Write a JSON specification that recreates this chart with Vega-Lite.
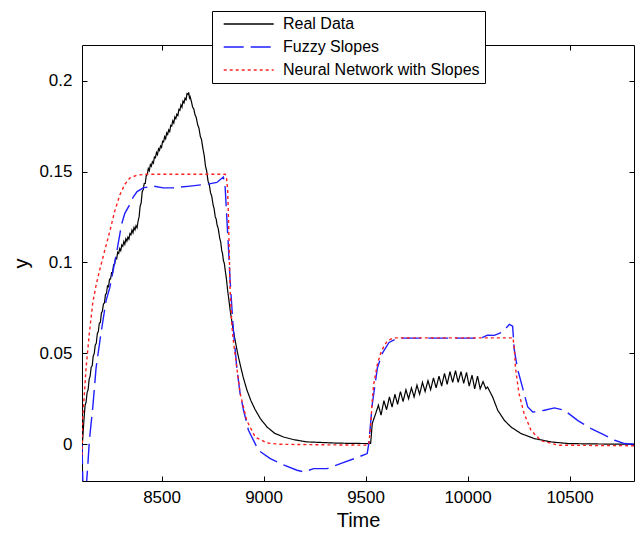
{
  "$schema": "https://vega.github.io/schema/vega-lite/v6.json",
  "width": 552,
  "height": 436,
  "autosize": {"type": "none"},
  "padding": {"left": 82, "top": 45, "right": 6, "bottom": 54},
  "background": "white",
  "config": {
    "view": {"stroke": "black", "strokeWidth": 1},
    "font": "Liberation Sans",
    "axis": {
      "grid": false, "domain": false, "tickColor": "black", "tickSize": -5, "tickWidth": 1,
      "labelColor": "black", "labelFontSize": 17, "labelFont": "Liberation Sans",
      "titleFont": "Liberation Sans", "titleFontSize": 20, "titleFontWeight": "normal", "titleColor": "black"
    }
  },
  "datasets": {
    "real": [
      {"t":8110,"v":0},{"t":8113,"v":0.002},{"t":8118,"v":0.011},{"t":8122,"v":0.017},
      {"t":8125,"v":0.0212},{"t":8130,"v":0.0232},{"t":8135,"v":0.0284},{"t":8140,"v":0.03},{"t":8145,"v":0.0357},{"t":8150,"v":0.0375},{"t":8155,"v":0.0424},{"t":8160,"v":0.0432},{"t":8165,"v":0.0485},{"t":8170,"v":0.0499},{"t":8175,"v":0.0546},{"t":8180,"v":0.0556},{"t":8185,"v":0.0608},{"t":8190,"v":0.0621},{"t":8195,"v":0.0666},{"t":8200,"v":0.067},{"t":8205,"v":0.0722},{"t":8210,"v":0.0732},{"t":8215,"v":0.0771},{"t":8220,"v":0.0777},{"t":8225,"v":0.0823},{"t":8230,"v":0.0831},{"t":8235,"v":0.0871},{"t":8240,"v":0.0867},{"t":8245,"v":0.0908},{"t":8250,"v":0.0909},{"t":8255,"v":0.0944},{"t":8260,"v":0.0945},{"t":8265,"v":0.0987},{"t":8270,"v":0.0991},{"t":8275,"v":0.1026},{"t":8280,"v":0.102},{"t":8285,"v":0.1057},{"t":8290,"v":0.105},{"t":8295,"v":0.1076},{"t":8300,"v":0.1065},{"t":8305,"v":0.1096},{"t":8310,"v":0.1089},{"t":8315,"v":0.1115},{"t":8320,"v":0.11},{"t":8325,"v":0.113},{"t":8330,"v":0.1117},{"t":8335,"v":0.1139},{"t":8340,"v":0.1128},{"t":8345,"v":0.1159},{"t":8350,"v":0.1152},{"t":8355,"v":0.1178},{"t":8360,"v":0.1163},{"t":8365,"v":0.1192},{"t":8370,"v":0.118},{"t":8375,"v":0.1202},{"t":8380,"v":0.1191},{"t":8385,"v":0.1228},{"t":8390,"v":0.1252},{"t":8395,"v":0.131},{"t":8400,"v":0.1327},{"t":8405,"v":0.1388},{"t":8410,"v":0.14},{"t":8415,"v":0.1434},{"t":8420,"v":0.1435},{"t":8425,"v":0.1478},{"t":8430,"v":0.1483},{"t":8435,"v":0.1517},{"t":8440,"v":0.1505},{"t":8445,"v":0.1538},{"t":8450,"v":0.1529},{"t":8455,"v":0.1554},{"t":8460,"v":0.1546},{"t":8465,"v":0.158},{"t":8470,"v":0.1576},{"t":8475,"v":0.1605},{"t":8480,"v":0.1593},{"t":8485,"v":0.1625},{"t":8490,"v":0.1616},{"t":8495,"v":0.1641},{"t":8500,"v":0.1633},{"t":8505,"v":0.1667},{"t":8510,"v":0.1663},{"t":8515,"v":0.1692},{"t":8520,"v":0.168},{"t":8525,"v":0.1713},{"t":8530,"v":0.1704},{"t":8535,"v":0.1729},{"t":8540,"v":0.172},{"t":8545,"v":0.1754},{"t":8550,"v":0.175},{"t":8555,"v":0.1779},{"t":8560,"v":0.1767},{"t":8565,"v":0.18},{"t":8570,"v":0.1791},{"t":8575,"v":0.1816},{"t":8580,"v":0.1808},{"t":8585,"v":0.1842},{"t":8590,"v":0.1837},{"t":8595,"v":0.1866},{"t":8600,"v":0.1854},{"t":8605,"v":0.1887},{"t":8610,"v":0.1878},{"t":8615,"v":0.1903},{"t":8620,"v":0.1895},{"t":8625,"v":0.1929},{"t":8630,"v":0.1925},{"t":8633,"v":0.1935},{"t":8637,"v":0.1905},{"t":8640,"v":0.1912},
      {"t":8646,"v":0.1887},{"t":8652,"v":0.1855},{"t":8658,"v":0.1844},{"t":8664,"v":0.1812},{"t":8670,"v":0.1798},{"t":8677,"v":0.1757},{"t":8683,"v":0.174},{"t":8690,"v":0.1694},{"t":8696,"v":0.1675},{"t":8703,"v":0.1625},{"t":8709,"v":0.1589},{"t":8715,"v":0.1532},{"t":8721,"v":0.1504},{"t":8728,"v":0.1447},{"t":8734,"v":0.1428},{"t":8740,"v":0.1384},{"t":8746,"v":0.1365},{"t":8753,"v":0.1315},{"t":8758,"v":0.1294},{"t":8763,"v":0.1252},{"t":8768,"v":0.1238},{"t":8772,"v":0.1207},{"t":8778,"v":0.1186},{"t":8785,"v":0.1134},{"t":8790,"v":0.1112},{"t":8795,"v":0.1065},{"t":8799,"v":0.1049},{"t":8803,"v":0.1012},{"t":8808,"v":0.0993},{"t":8812,"v":0.0957},{"t":8818,"v":0.091},{"t":8824,"v":0.0846},{"t":8830,"v":0.0795},{"t":8836,"v":0.074},
      {"t":8848,"v":0.065},{"t":8861,"v":0.057},{"t":8873,"v":0.05},{"t":8885,"v":0.044},{"t":8900,"v":0.037},{"t":8918,"v":0.03},{"t":8938,"v":0.024},{"t":8959,"v":0.019},{"t":8985,"v":0.014},{"t":9017,"v":0.0095},{"t":9055,"v":0.006},{"t":9098,"v":0.004},{"t":9150,"v":0.0025},{"t":9213,"v":0.0013},{"t":9280,"v":0.001},{"t":9344,"v":0.0007},{"t":9420,"v":0.0005},{"t":9508,"v":0.0004},{"t":9525,"v":0.0005},{"t":9533,"v":0.0115},{"t":9550,"v":0.017},
      {"t":9563,"v":0.0215},{"t":9576,"v":0.016},{"t":9590,"v":0.024},{"t":9603,"v":0.019},{"t":9617,"v":0.026},{"t":9630,"v":0.0205},{"t":9644,"v":0.0275},{"t":9657,"v":0.022},{"t":9671,"v":0.029},{"t":9684,"v":0.0235},{"t":9698,"v":0.03},{"t":9711,"v":0.025},{"t":9725,"v":0.031},{"t":9738,"v":0.026},{"t":9752,"v":0.0325},{"t":9765,"v":0.0275},{"t":9779,"v":0.034},{"t":9792,"v":0.029},{"t":9806,"v":0.035},{"t":9819,"v":0.03},{"t":9833,"v":0.0365},{"t":9846,"v":0.031},{"t":9860,"v":0.0375},{"t":9873,"v":0.032},{"t":9887,"v":0.039},{"t":9900,"v":0.033},{"t":9914,"v":0.04},{"t":9927,"v":0.034},{"t":9941,"v":0.0405},{"t":9954,"v":0.034},{"t":9968,"v":0.04},{"t":9981,"v":0.0335},{"t":9995,"v":0.0395},{"t":10008,"v":0.032},{"t":10022,"v":0.038},{"t":10035,"v":0.0305},{"t":10049,"v":0.0375},{"t":10062,"v":0.0305},{"t":10076,"v":0.0345},{"t":10090,"v":0.0305},{"t":10098,"v":0.0315},{"t":10123,"v":0.026},{"t":10148,"v":0.0187},{"t":10180,"v":0.0132},{"t":10213,"v":0.0095},{"t":10262,"v":0.0059},{"t":10328,"v":0.0031},{"t":10410,"v":0.0013},{"t":10492,"v":0.0004},{"t":10600,"v":0.0002},{"t":10700,"v":0.0001},{"t":10816,"v":0.0001}
    ],
    "fuzzy": [
      {"t":8110,"v":0},{"t":8115,"v":-0.025},{"t":8125,"v":-0.035},{"t":8133,"v":-0.02},{"t":8138,"v":-0.0125},{"t":8146,"v":0.002},{"t":8163,"v":0.0205},{"t":8179,"v":0.042},{"t":8203,"v":0.061},{"t":8228,"v":0.079},{"t":8246,"v":0.086},{"t":8279,"v":0.105},{"t":8304,"v":0.121},{"t":8320,"v":0.127},{"t":8345,"v":0.132},{"t":8361,"v":0.136},{"t":8380,"v":0.139},{"t":8410,"v":0.141},{"t":8459,"v":0.142},{"t":8508,"v":0.141},{"t":8557,"v":0.141},{"t":8640,"v":0.142},{"t":8722,"v":0.143},{"t":8771,"v":0.144},{"t":8803,"v":0.147},{"t":8812,"v":0.141},{"t":8828,"v":0.108},{"t":8836,"v":0.09},{"t":8852,"v":0.063},{"t":8869,"v":0.042},{"t":8885,"v":0.028},{"t":8902,"v":0.0187},{"t":8926,"v":0.0077},{"t":8975,"v":-0.0033},{"t":9033,"v":-0.0079},{"t":9082,"v":-0.0106},{"t":9164,"v":-0.0143},{"t":9197,"v":-0.0152},{"t":9246,"v":-0.0134},{"t":9312,"v":-0.0134},{"t":9377,"v":-0.0106},{"t":9459,"v":-0.0073},{"t":9508,"v":-0.0051},{"t":9516,"v":0.0004},{"t":9533,"v":0.022},{"t":9558,"v":0.042},{"t":9582,"v":0.05},{"t":9615,"v":0.056},{"t":9656,"v":0.0584},{"t":10065,"v":0.0584},{"t":10098,"v":0.06},{"t":10131,"v":0.0599},{"t":10172,"v":0.0617},{"t":10205,"v":0.066},{"t":10221,"v":0.065},{"t":10229,"v":0.052},{"t":10246,"v":0.041},{"t":10270,"v":0.031},{"t":10295,"v":0.0205},{"t":10320,"v":0.0177},{"t":10377,"v":0.0187},{"t":10426,"v":0.02},{"t":10475,"v":0.0187},{"t":10541,"v":0.013},{"t":10606,"v":0.0086},{"t":10672,"v":0.005},{"t":10721,"v":0.0022},{"t":10770,"v":0.0004},{"t":10816,"v":0}
    ],
    "nn": [
      {"t":8110,"v":-0.006},{"t":8113,"v":0.013},{"t":8130,"v":0.042},{"t":8146,"v":0.061},{"t":8163,"v":0.078},{"t":8180,"v":0.088},{"t":8197,"v":0.096},{"t":8220,"v":0.106},{"t":8246,"v":0.117},{"t":8270,"v":0.128},{"t":8295,"v":0.137},{"t":8320,"v":0.143},{"t":8345,"v":0.1465},{"t":8380,"v":0.148},{"t":8420,"v":0.1485},{"t":8812,"v":0.1485},{"t":8818,"v":0.147},{"t":8824,"v":0.14},{"t":8828,"v":0.125},{"t":8832,"v":0.105},{"t":8836,"v":0.085},{"t":8845,"v":0.065},{"t":8852,"v":0.057},{"t":8869,"v":0.042},{"t":8885,"v":0.028},{"t":8918,"v":0.013},{"t":8959,"v":0.004},{"t":9017,"v":0.0007},{"t":9080,"v":0},{"t":9300,"v":-0.0003},{"t":9508,"v":-0.0005},{"t":9516,"v":0},{"t":9525,"v":0.01},{"t":9533,"v":0.024},{"t":9540,"v":0.033},{"t":9558,"v":0.044},{"t":9574,"v":0.05},{"t":9590,"v":0.054},{"t":9608,"v":0.057},{"t":9638,"v":0.0585},{"t":10223,"v":0.0585},{"t":10230,"v":0.052},{"t":10235,"v":0.042},{"t":10252,"v":0.028},{"t":10277,"v":0.017},{"t":10311,"v":0.0077},{"t":10360,"v":0.002},{"t":10444,"v":-0.0005},{"t":10816,"v":-0.0008}
    ]
  },
  "layer": [
    {
      "data": {"name": "real"},
      "mark": {"type": "line", "strokeWidth": 1.2, "clip": true},
      "encoding": {
        "x": {"field": "t", "type": "quantitative", "scale": {"domain": [8110, 10816], "nice": false, "zero": false},
              "axis": {"orient": "bottom", "values": [8500, 9000, 9500, 10000, 10500], "format": "d", "title": "Time", "labelPadding": 13, "titlePadding": 5}},
        "y": {"field": "v", "type": "quantitative", "scale": {"domain": [-0.0202, 0.2196], "nice": false, "zero": false},
              "axis": {"orient": "left", "values": [0, 0.05, 0.1, 0.15, 0.2], "format": ".2~f", "title": "y", "labelPadding": 15, "titlePadding": 7}},
        "color": {"datum": "Real Data", "type": "nominal",
                  "scale": {"domain": ["Real Data", "Fuzzy Slopes", "Neural Network with Slopes"], "range": ["#000000", "#1f1fff", "#ff1f1f"]},
                  "legend": {"title": null, "orient": "none", "legendX": 130, "legendY": -34, "symbolType": "M-0.26,0H9.74", "symbolSize": 100, "symbolStrokeWidth": 1.3, "labelFontSize": 16, "labelFont": "Liberation Sans", "labelColor": "black", "labelLimit": 400, "strokeColor": "black", "fillColor": "white", "padding": 5, "rowPadding": 7, "labelOffset": 50}},
        "strokeDash": {"datum": "Real Data", "type": "nominal",
                  "scale": {"domain": ["Real Data", "Fuzzy Slopes", "Neural Network with Slopes"], "range": [[1, 0], [20, 7], [3, 3]]},
                  "legend": {"title": null, "orient": "none", "legendX": 130, "legendY": -34, "symbolType": "M-0.26,0H9.74", "symbolSize": 100, "symbolStrokeWidth": 1.3, "labelFontSize": 16, "labelFont": "Liberation Sans", "labelColor": "black", "labelLimit": 400, "strokeColor": "black", "fillColor": "white", "padding": 5, "rowPadding": 7, "labelOffset": 50}}
      }
    },
    {
      "data": {"name": "fuzzy"},
      "mark": {"type": "line", "strokeWidth": 1.4, "clip": true},
      "encoding": {
        "x": {"field": "t", "type": "quantitative", "axis": null},
        "y": {"field": "v", "type": "quantitative", "axis": null},
        "color": {"datum": "Fuzzy Slopes", "type": "nominal"},
        "strokeDash": {"datum": "Fuzzy Slopes", "type": "nominal"}
      }
    },
    {
      "data": {"name": "nn"},
      "mark": {"type": "line", "strokeWidth": 1.4, "clip": true},
      "encoding": {
        "x": {"field": "t", "type": "quantitative", "axis": null},
        "y": {"field": "v", "type": "quantitative", "axis": null},
        "color": {"datum": "Neural Network with Slopes", "type": "nominal"},
        "strokeDash": {"datum": "Neural Network with Slopes", "type": "nominal"}
      }
    },
    {
      "data": {"name": "nn"},
      "mark": {"type": "line", "strokeOpacity": 0, "clip": true},
      "encoding": {
        "x": {"field": "t", "type": "quantitative", "axis": {"orient": "top", "values": [8500, 9000, 9500, 10000, 10500], "labels": false, "title": null}},
        "y": {"field": "v", "type": "quantitative", "axis": {"orient": "right", "values": [0, 0.05, 0.1, 0.15, 0.2], "labels": false, "title": null}}
      }
    }
  ],
  "resolve": {"axis": {"x": "independent", "y": "independent"}}
}
